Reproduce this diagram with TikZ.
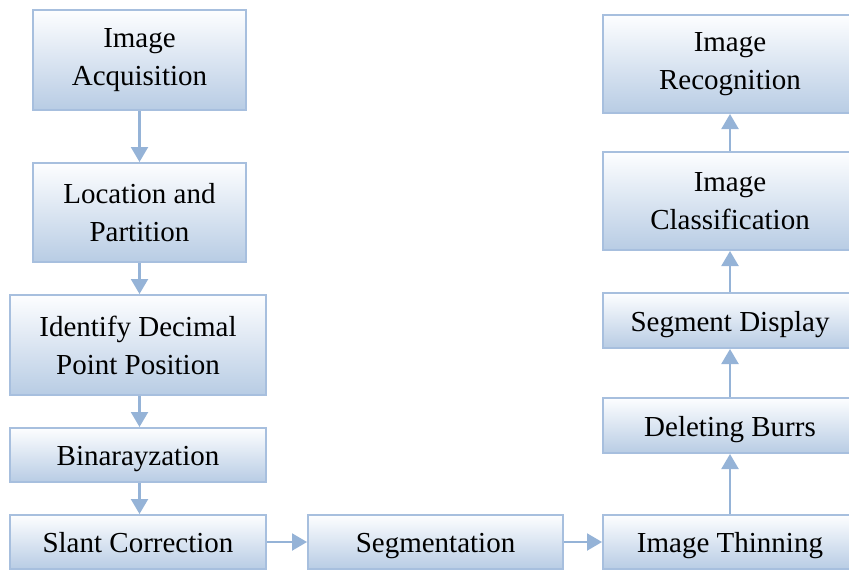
\documentclass[tikz,border=0pt]{standalone}
\usepackage{fontspec}
\setmainfont{Liberation Serif}
\usetikzlibrary{arrows.meta}
\definecolor{boxtop}{HTML}{FDFEFF}
\definecolor{boxbot}{HTML}{B8CCE4}
\definecolor{boxline}{HTML}{A7BFDE}
\definecolor{arrowcol}{HTML}{95B3D7}
\newcommand{\linestrut}{\rule[-8pt]{0pt}{37pt}}
\tikzset{
  procbox/.style={draw=boxline, line width=2pt, top color=boxtop, bottom color=boxbot,
    inner sep=0pt, align=center, font=\fontsize{29}{38}\selectfont},
  flowarrow/.style={draw=arrowcol, line width=2.2pt,
    -{Triangle[width=17pt,length=15pt]}}
}
\begin{document}
\begin{tikzpicture}[x=1pt,y=-1pt]
\useasboundingbox (0,0) rectangle (849,570);
% left column
\node[procbox, minimum width=213, minimum height=100] (acq) at (139.5,60) {Image\\Acquisition};
\node[procbox, minimum width=213, minimum height=99] (loc) at (139.5,212.5) {Location and\\Partition};
\node[procbox, minimum width=256, minimum height=100] (dec) at (138,345) {Identify Decimal\\Point Position};
\node[procbox, minimum width=256, minimum height=54] (bin) at (138,455) {\linestrut Binarayzation};
\node[procbox, minimum width=256, minimum height=54] (sla) at (138,542) {\linestrut Slant Correction};
% bottom row
\node[procbox, minimum width=255, minimum height=54] (seg) at (435.5,542) {\linestrut Segmentation};
\node[procbox, minimum width=254, minimum height=54] (thin) at (730,542) {\linestrut Image Thinning};
% right column
\node[procbox, minimum width=254, minimum height=55] (burr) at (730,425.5) {\linestrut Deleting Burrs};
\node[procbox, minimum width=254, minimum height=55] (disp) at (730,320.5) {\linestrut Segment Display};
\node[procbox, minimum width=254, minimum height=98] (cls) at (730,201) {Image\\Classification};
\node[procbox, minimum width=254, minimum height=98] (rec) at (730,64) {Image\\Recognition};
% connectors (left column arrows share one vertical line)
\draw[flowarrow] (acq) -- (loc);
\draw[flowarrow] (loc.south) -- (loc.south |- dec.north);
\draw[flowarrow] (dec.south -| loc.south) -- (loc.south |- bin.north);
\draw[flowarrow] (bin.south -| loc.south) -- (loc.south |- sla.north);
\draw[flowarrow] (sla) -- (seg);
\draw[flowarrow] (seg) -- (thin);
\draw[flowarrow] (thin) -- (burr);
\draw[flowarrow] (burr) -- (disp);
\draw[flowarrow] (disp) -- (cls);
\draw[flowarrow] (cls) -- (rec);
\end{tikzpicture}
\end{document}
